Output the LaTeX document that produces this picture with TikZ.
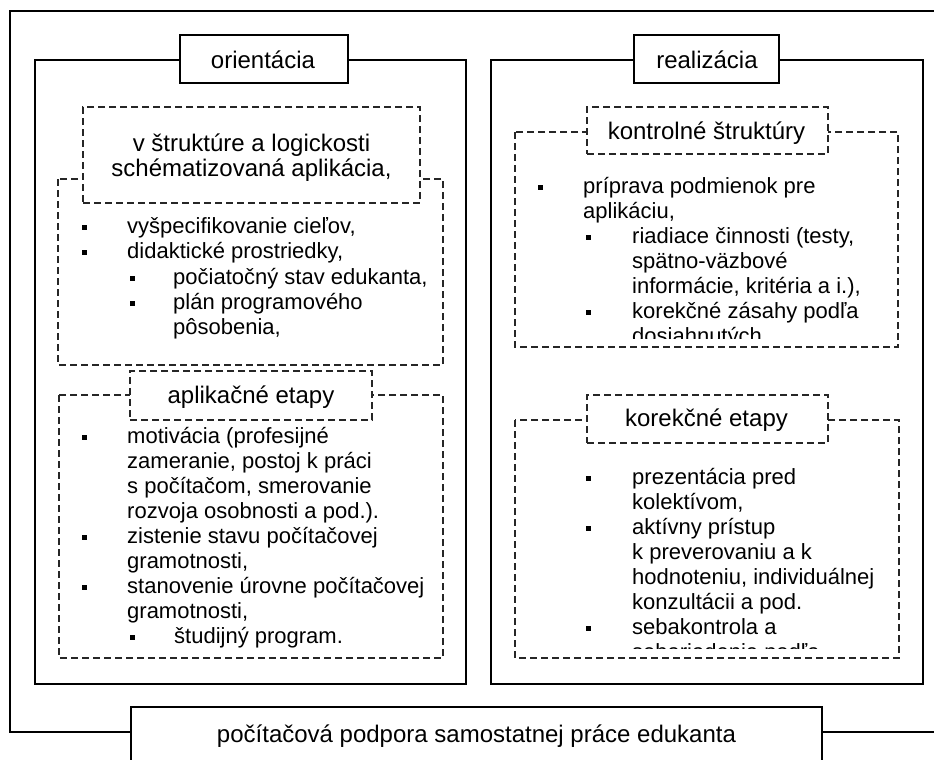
\documentclass[tikz,border=0pt]{standalone}
\usepackage{fontspec}
\setmainfont{Liberation Sans}
\newcommand{\bodyfont}{\fontsize{22}{25}\selectfont}
\newcommand{\titlefont}{\fontsize{24}{25}\selectfont}
\newcounter{tn}
\newcommand{\tl}[3]{\stepcounter{tn}\node[txt] (t\arabic{tn}) at (#1,#2) {#3};}
\newcommand{\tc}[3]{\stepcounter{tn}\node[txtc] (t\arabic{tn}) at (#1,#2) {#3};}
\newcommand{\bul}[2]{\fill (#1-2.5,#2-8.5) rectangle ++(5,5);}
\begin{document}
\begin{tikzpicture}[x=1pt,y=-1pt,
  txt/.style={anchor=base west, inner sep=0pt, font=\bodyfont},
  txtc/.style={anchor=base, inner sep=0pt, font=\titlefont},
  solidbox/.style={draw=black, line width=1.6pt},
  dashbox/.style={draw=black!85, line width=1.2pt, dash pattern=on 7pt off 4pt},
  titlebox/.style={solidbox, fill=white, inner sep=0pt},
  dtitlebox/.style={dashbox, fill=white, inner sep=0pt}]
\useasboundingbox (0,0) rectangle (934,760);
\clip (0,0) rectangle (934,760);
\fill[white] (0,0) rectangle (934,760);
% outer frame
\draw[solidbox] (10,11) rectangle (960,732);
% bottom box
\node[titlebox, minimum width=691pt, minimum height=90pt] (bottom) at (476.5,752) {};
\tc{476.5}{742}{počítačová podpora samostatnej práce edukanta}
% left panel
\draw[solidbox, fill=white] (35,60) rectangle (466,684);
\node[titlebox, minimum width=168pt, minimum height=48pt] (orient) at (264,59) {};
\tc{263}{68}{orientácia}
% right panel
\draw[solidbox, fill=white] (491,60) rectangle (923,684);
\node[titlebox, minimum width=145pt, minimum height=48pt] (realiz) at (706.5,59) {};
\tc{707}{68}{realizácia}
% ---- left top group
\draw[dashbox] (58,179) rectangle (443,365);
\node[dtitlebox, minimum width=337pt, minimum height=96pt] (lt) at (251.5,155) {};
\tc{251.5}{151}{v štruktúre a logickosti}
\tc{251.5}{176}{schématizovaná aplikácia,}
\bul{84.5}{233}\tl{127}{233}{vyšpecifikovanie cieľov,}
\bul{84.5}{258}\tl{127}{258}{didaktické prostriedky,}
\bul{132.5}{284}\tl{173}{284}{počiatočný stav edukanta,}
\bul{132.5}{309}\tl{173}{309}{plán programového}
\tl{173}{334}{pôsobenia,}
% ---- left bottom group
\draw[dashbox] (59,395) rectangle (443,658);
\node[dtitlebox, minimum width=242pt, minimum height=49pt] (lb) at (251,395.5) {};
\tc{251}{403}{aplikačné etapy}
\bul{84.5}{443}\tl{127}{443}{motivácia (profesijné}
\tl{127}{468}{zameranie, postoj k práci}
\tl{127}{493}{s počítačom, smerovanie}
\tl{127}{518}{rozvoja osobnosti a pod.).}
\bul{84.5}{543}\tl{127}{543}{zistenie stavu počítačovej}
\tl{127}{568}{gramotnosti,}
\bul{84.5}{593}\tl{127}{593}{stanovenie úrovne počítačovej}
\tl{127}{618}{gramotnosti,}
\bul{132.5}{643}\tl{174}{643}{študijný program.}
% ---- right top group
\draw[dashbox] (515,132) rectangle (898,347);
\node[dtitlebox, minimum width=241pt, minimum height=47pt] (rt) at (707.5,130.5) {};
\tc{706.5}{139}{kontrolné štruktúry}
\begin{scope}
\clip (517,156) rectangle (896,338);
\bul{540.5}{193}\tl{583}{193}{príprava podmienok pre}
\tl{583}{218}{aplikáciu,}
\bul{588.5}{243}\tl{632}{243}{riadiace činnosti (testy,}
\tl{632}{268}{spätno-väzbové}
\tl{632}{293}{informácie, kritéria a i.),}
\bul{588.5}{318}\tl{632}{318}{korekčné zásahy podľa}
\tl{632}{343}{dosiahnutých}
\end{scope}
% ---- right bottom group
\draw[dashbox] (515,420) rectangle (899,658);
\node[dtitlebox, minimum width=241pt, minimum height=48pt] (rb) at (707.5,419) {};
\tc{706.5}{426}{korekčné etapy}
\begin{scope}
\clip (517,445) rectangle (897,648);
\bul{588.5}{484}\tl{632}{484}{prezentácia pred}
\tl{632}{509}{kolektívom,}
\bul{588.5}{534}\tl{632}{534}{aktívny prístup}
\tl{632}{559}{k preverovaniu a k}
\tl{632}{584}{hodnoteniu, individuálnej}
\tl{632}{609}{konzultácii a pod.}
\bul{588.5}{634}\tl{632}{634}{sebakontrola a}
\tl{632}{659}{sebariadenie podľa}
\end{scope}
\end{tikzpicture}
\end{document}
